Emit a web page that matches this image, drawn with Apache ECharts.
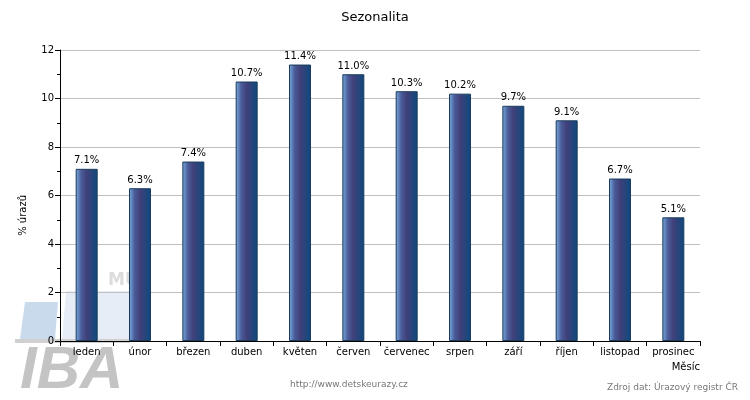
<!DOCTYPE html>
<html><head><meta charset="utf-8">
<script src="https://cdn.jsdelivr.net/npm/echarts@6/dist/echarts.min.js"></script>
<style>html,body{margin:0;padding:0;background:#fff}#c{width:750px;height:400px}</style>
</head><body><div id="c"></div>
<script>
var categories = ['leden','únor','březen','duben','květen','červen','červenec','srpen','září','říjen','listopad','prosinec'];
var values = [7.1, 6.3, 7.4, 10.7, 11.4, 11.0, 10.3, 10.2, 9.7, 9.1, 6.7, 5.1];
var yTicks = [0, 2, 4, 6, 8, 10, 12];

var chart = echarts.init(document.getElementById('c'));
var F = 'DejaVu Sans';
chart.setOption({
  animation: false,
  title: {text: 'Sezonalita', left: 'center', top: 6, textStyle: {fontFamily: F, fontSize: 13, fontWeight: 'normal', color: '#000'}},
  grid: {left: 60, right: 50, top: 50, bottom: 59, containLabel: false},
  graphic: [
    {type: 'polygon', z: 0, shape: {points: [[25,302],[58,302],[55,339],[20,339]]}, style: {fill: '#c9daec'}},
    {type: 'polygon', z: 0, shape: {points: [[66,291],[130,291],[130,340],[62,340]]}, style: {fill: '#e6edf6'}},
    {type: 'rect', z: 0, shape: {x: 15, y: 339, width: 115, height: 4}, style: {fill: '#d0d0d0'}},
    {type: 'text', z: 0, left: 108, top: 272, style: {text: 'MU', font: 'bold 17px DejaVu Sans', fill: '#dcdcdc'}},
    {type: 'text', z: 0, left: 20, top: 341, style: {text: 'IBA', font: 'italic bold 60px Liberation Sans', fill: '#c4c4c4'}},
    {type: 'text', left: 290, top: 380, style: {text: 'http://www.detskeurazy.cz', font: '9px DejaVu Sans', fill: '#777'}},
    {type: 'text', right: 12, top: 383, style: {text: 'Zdroj dat: Úrazový registr ČR', font: '9px DejaVu Sans', fill: '#777'}},
    {type: 'text', right: 50, top: 362, style: {text: 'Měsíc', font: '10px DejaVu Sans', fill: '#000'}},
    {type: 'text', left: 18, top: 195, rotation: Math.PI/2, style: {text: '% úrazů', font: '10px DejaVu Sans', fill: '#000', align: 'center', verticalAlign: 'middle'}}
  ],
  xAxis: {
    type: 'category', data: categories,
    axisLine: {lineStyle: {color: '#000', width: 1}},
    axisTick: {show: true, alignWithLabel: false, length: 5, inside: false, lineStyle: {color: '#000'}},
    axisLabel: {fontFamily: F, fontSize: 10, color: '#000', margin: 6, interval: 0},
    z: 5
  },
  yAxis: {
    type: 'value', min: 0, max: 12, interval: 2,
    axisLine: {show: true, lineStyle: {color: '#000'}},
    axisTick: {show: true, length: 5, lineStyle: {color: '#000'}},
    minorTick: {show: true, splitNumber: 2, length: 3, lineStyle: {color: '#000'}},
    axisLabel: {fontFamily: F, fontSize: 10, color: '#000', margin: 6},
    splitLine: {show: true, lineStyle: {color: '#c0c0c0', width: 1}}
  },
  series: [{
    type: 'bar', data: values, barWidth: 22, z: 3,
    itemStyle: {
      borderColor: '#1a3b5c', borderWidth: 1,
      color: new echarts.graphic.LinearGradient(0, 0, 1, 0, [
        {offset: 0, color: '#7aaee0'},
        {offset: 0.25, color: '#4a5d9a'},
        {offset: 0.5, color: '#41407a'},
        {offset: 1, color: '#0c4a7c'}
      ])
    },
    label: {show: true, position: 'top', distance: 3, fontFamily: F, fontSize: 10, color: '#000',
      formatter: function(p){ return p.value.toFixed(1) + '%'; }}
  }]
});
</script></body></html>
